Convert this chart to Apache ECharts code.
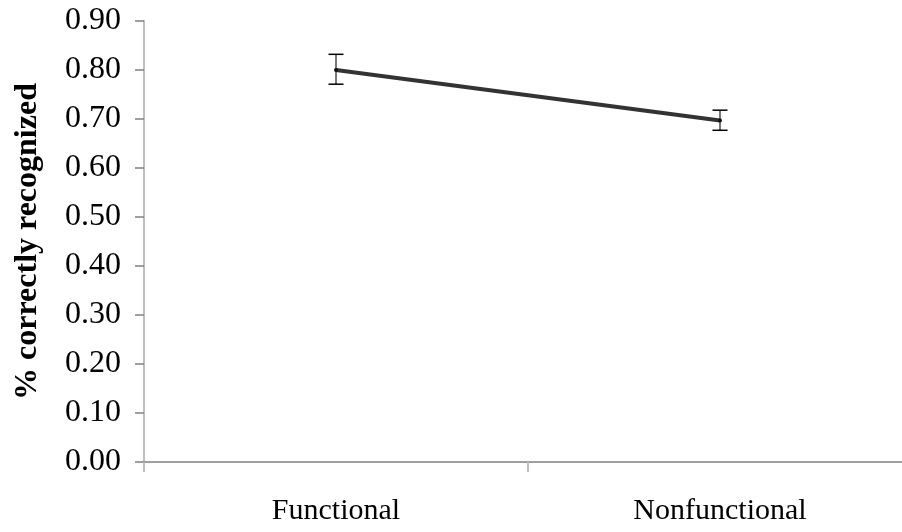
<!DOCTYPE html>
<html>
<head>
<meta charset="utf-8">
<script src="https://cdn.jsdelivr.net/npm/echarts@6/dist/echarts.min.js"></script>
<style>
  html, body { margin: 0; padding: 0; background: #fff; }
  #chart { width: 902px; height: 532px; }
</style>
</head>
<body>
<div id="chart"></div>
<script>
const categories = ['Functional', 'Nonfunctional']
const means = [0.80, 0.697]
const errLow = [0.771, 0.677]
const errHigh = [0.832, 0.718]
const yTicks = [0, 0.9, 0.1]

const font = 'Liberation Serif, Times New Roman, serif'
let chart = echarts.init(document.getElementById('chart'))

chart.setOption({
  animation: false,
  grid: { left: 144, right: -10, top: 21, bottom: 70, outerBoundsMode: 'none' },
  xAxis: {
    type: 'category',
    data: categories,
    boundaryGap: true,
    axisLine: { lineStyle: { color: '#808080', width: 1.5 } },
    axisTick: { show: true, length: 10, lineStyle: { color: '#bfbfbf', width: 2 } },
    axisLabel: { color: '#000', fontFamily: font, fontSize: 30, margin: 34 },
  },
  yAxis: {
    type: 'value',
    min: yTicks[0],
    max: yTicks[1],
    interval: yTicks[2],
    name: '% correctly recognized',
    nameLocation: 'middle',
    nameGap: 100,
    nameTextStyle: { color: '#000', fontFamily: font, fontSize: 32, fontWeight: 'bold' },
    axisLine: { show: true, lineStyle: { color: '#bfbfbf', width: 2 } },
    axisTick: { show: true, length: 9, lineStyle: { color: '#808080', width: 1.5 } },
    splitLine: { show: false },
    axisLabel: {
      color: '#000', fontFamily: font, fontSize: 32, margin: 23,
      formatter: v => v.toFixed(2),
    },
  },
  series: [
    {
      type: 'line',
      data: means,
      symbol: 'circle',
      symbolSize: 4,
      itemStyle: { color: '#111' },
      lineStyle: { color: '#333', width: 4 },
      z: 3,
    },
    {
      type: 'custom',
      data: categories.map((c, i) => [i, errLow[i], errHigh[i]]),
      renderItem(params, api) {
        let lo = api.coord([api.value(0), api.value(1)])
        let hi = api.coord([api.value(0), api.value(2)])
        let hw = 7.5
        return {
          type: 'group',
          children: [
            { type: 'line', shape: { x1: lo[0], y1: lo[1], x2: hi[0], y2: hi[1] }, style: { stroke: '#777', lineWidth: 2 } },
            { type: 'line', shape: { x1: hi[0] - hw, y1: hi[1], x2: hi[0] + hw, y2: hi[1] }, style: { stroke: '#000', lineWidth: 1.5 } },
            { type: 'line', shape: { x1: lo[0] - hw, y1: lo[1], x2: lo[0] + hw, y2: lo[1] }, style: { stroke: '#000', lineWidth: 1.5 } },
          ],
        }
      },
      z: 2,
    },
  ],
})
</script>
</body>
</html>
